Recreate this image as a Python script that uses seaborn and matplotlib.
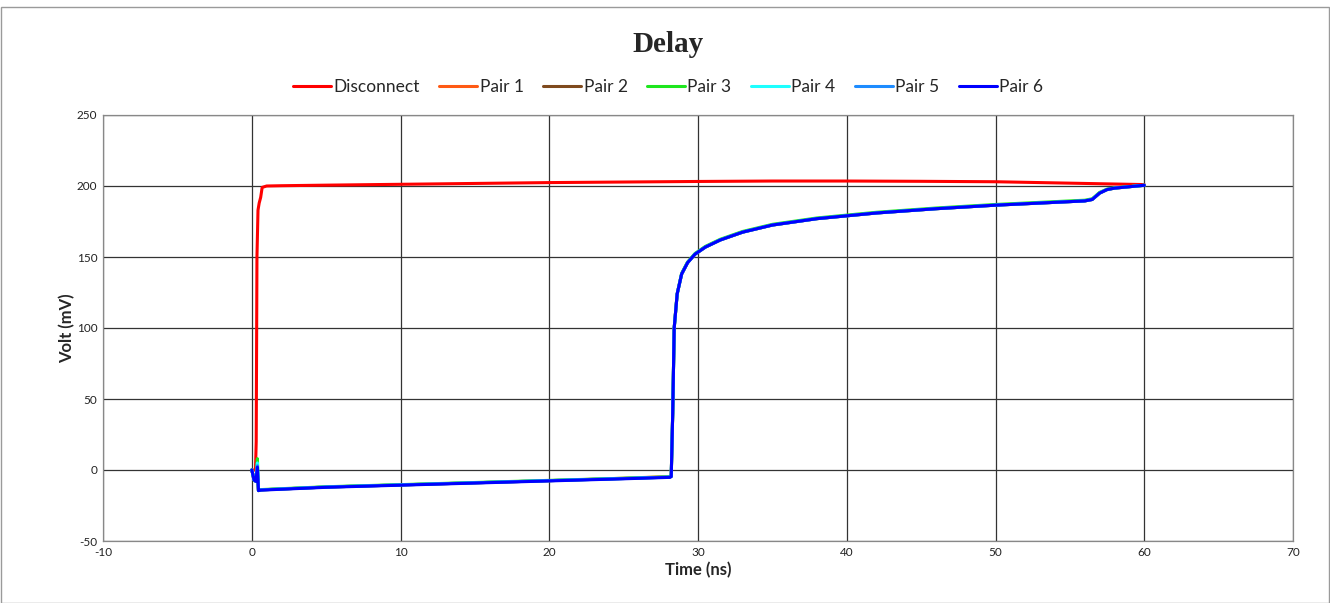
import matplotlib
matplotlib.use("Agg")
import matplotlib.pyplot as plt
import seaborn as sns
import pandas as pd
from matplotlib.patches import Rectangle

# ---- data ----
t_disc = [0, 0.25, 0.3, 0.35, 0.42, 0.5, 0.6, 0.7, 1, 2, 5, 10, 15, 20, 25, 30,
          35, 40, 45, 50, 55, 60]
v_disc = [0, 0, 20, 150, 183, 188, 192, 199, 200, 200.2, 200.6, 201.2, 201.8,
          202.4, 202.8, 203.2, 203.5, 203.5, 203.3, 203.0, 202.0, 201.0]

t_pair = [0, 0.05, 0.15, 0.28, 0.38, 0.45, 0.6, 5, 10, 15, 20, 25, 28.1, 28.2,
          28.3, 28.4, 28.6, 28.9, 29.3, 29.8, 30.5, 31.5, 33, 35, 38, 42, 46,
          50, 53, 56, 56.5, 57, 57.5, 58, 59, 60]
pair1 = [0, -2, -7, -8, -2, -14.5, -14, -12, -10.5, -9, -7.5, -5.8, -4.6, -4.3,
         40, 100, 124, 138, 146, 152, 157, 162, 167.5, 172.5, 177, 181, 184,
         186.5, 188, 189.5, 190.5, 195, 197.5, 198.5, 199.5, 200.5]
pair2 = [0, -2, -7, -8, 0, -14.5, -14, -12, -10.5, -9, -7.5, -6, -5, -4.5,
         40, 100, 124, 138, 146, 152, 157, 162, 167.5, 172.5, 177, 181, 184,
         186.5, 188, 189.5, 190.5, 195, 197.5, 198.5, 199.5, 200.5]
pair3 = [0, -2, -7, -8, 8, -14.5, -13.8, -11.8, -10.3, -8.8, -7.3, -5.8, -4.8,
         -4.3, 40, 100, 124, 138.5, 146.5, 152.5, 157.5, 162.5, 168, 173,
         177.5, 181.5, 184.5, 187, 188.5, 190, 191, 195.5, 197.8, 198.7, 199.6, 200.5]
pair4 = [0, -2, -7, -8, 5, -14.5, -14, -12, -10.5, -9, -7.5, -6, -5, -4.5,
         40, 100, 124, 138, 146, 152, 157, 162, 167.5, 172.5, 177, 181, 184,
         186.5, 188, 189.5, 190.5, 195, 197.5, 198.5, 199.5, 200.5]
pair5 = [0, -2, -7, -8, 3, -14.5, -14, -12, -10.5, -9, -7.5, -6, -5, -4.5,
         40, 100, 124, 138, 146, 152, 157, 162, 167.5, 172.5, 177, 181, 184,
         186.5, 188, 189.5, 190.5, 195, 197.5, 198.5, 199.5, 200.5]
pair6 = [0, -2, -7, -8, 2, -14.5, -14.2, -12.2, -10.7, -9.2, -7.7, -6.2, -5.2,
         -4.7, 40, 100, 124, 138, 146, 152, 157, 162, 167.5, 172.5, 177, 181,
         184, 186.5, 188, 189.5, 190.5, 195, 197.5, 198.5, 199.5, 200.5]

series_names = ["Disconnect", "Pair 1", "Pair 2", "Pair 3", "Pair 4", "Pair 5", "Pair 6"]
series_colors = ["#ff0000", "#ff5a14", "#7f4a1e", "#1ee61e", "#1effff", "#1e8cff", "#0000ff"]

x_ticks = [-10, 0, 10, 20, 30, 40, 50, 60, 70]
y_ticks = [-50, 0, 50, 100, 150, 200, 250]

# ---- long-form table ----
frames = [pd.DataFrame({"Time": t_disc, "Volt": v_disc, "Series": "Disconnect"})]
for name, vals in zip(series_names[1:], [pair1, pair2, pair3, pair4, pair5, pair6]):
    frames.append(pd.DataFrame({"Time": t_pair, "Volt": vals, "Series": name}))
df = pd.concat(frames, ignore_index=True)

sns.set_style("white")
plt.rcParams["font.family"] = ["Lato", "DejaVu Sans"]
plt.rcParams["axes.unicode_minus"] = False

fig = plt.figure(figsize=(13.3, 6.03), dpi=100)
ax = fig.add_axes([103 / 1330, 1 - 541 / 603, (1293 - 103) / 1330, (541 - 115) / 603])

sns.lineplot(data=df, x="Time", y="Volt", hue="Series", hue_order=series_names,
             palette=dict(zip(series_names, series_colors)), sort=False,
             estimator=None, linewidth=2.2, ax=ax, legend=True)

ax.set_xlim(-10, 70)
ax.set_ylim(-50, 250)
ax.set_xticks(x_ticks)
ax.set_yticks(y_ticks)
ax.set_xticklabels([str(v) for v in x_ticks])
ax.set_yticklabels([str(v) for v in y_ticks])
ax.tick_params(axis="both", length=0, labelsize=8.5, pad=4, colors="#222222")
ax.grid(True, color="#333333", linewidth=0.9)
ax.set_axisbelow(True)
for s in ax.spines.values():
    s.set_color("#888888")
    s.set_linewidth(0.9)

ax.set_xlabel("Time (ns)", fontsize=12, fontweight="bold", labelpad=3)
ax.set_ylabel("Volt (mV)", fontsize=12, fontweight="bold", labelpad=1)

fig.text(0.5 + 3 / 1330, 1 - 45 / 603, "Delay", ha="center", va="center",
         fontsize=21, fontweight="bold", family=["Liberation Serif", "DejaVu Serif"])

handles, labels = ax.get_legend_handles_labels()
ax.legend(handles, labels, loc="center", bbox_to_anchor=(0.5 + 3 / 1330, 1 - 87 / 603),
          bbox_transform=fig.transFigure, ncol=7, frameon=False, fontsize=12.5,
          handlelength=2.2, handletextpad=0.15, columnspacing=1.1)

fig.patches.append(Rectangle((1 / 1330, 0), 1 - 2 / 1330, 1 - 7 / 603,
                             transform=fig.transFigure, fill=False,
                             edgecolor="#9a9a9a", linewidth=1.0))

fig.savefig("out.png", dpi=100)
